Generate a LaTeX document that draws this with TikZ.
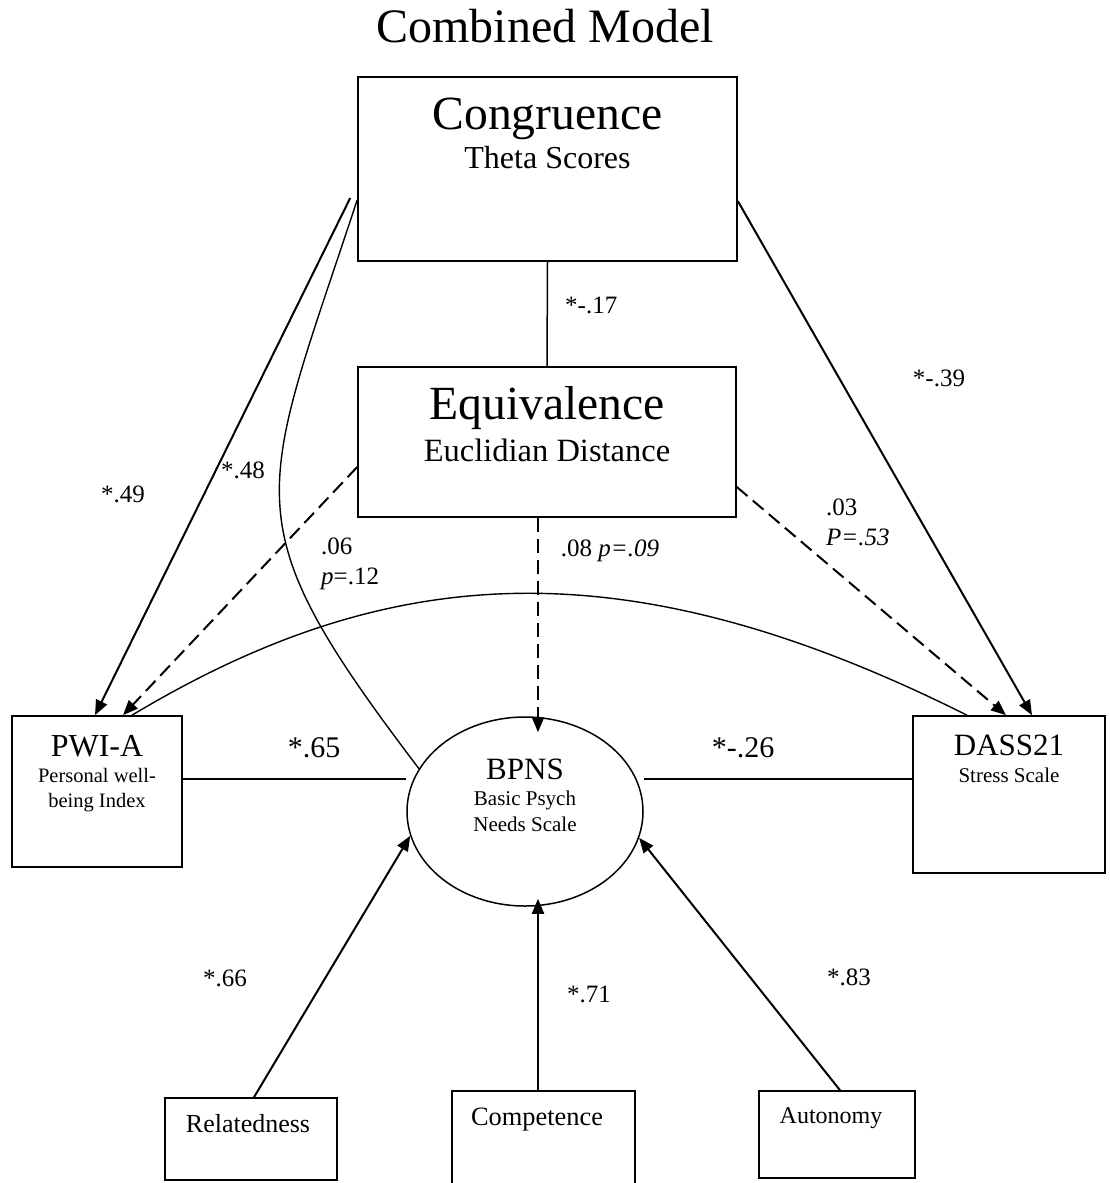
\documentclass[tikz,border=0pt]{standalone}
\usepackage{fontspec}
\setmainfont{Liberation Serif}
\usetikzlibrary{positioning,calc,arrows.meta,shapes.geometric}

\newcommand{\fs}[2]{\fontsize{#1}{#2}\selectfont}

\begin{document}
\begin{tikzpicture}[x=1pt,y=-1pt,
    sembox/.style={draw,line width=1.6pt,inner sep=0pt},
    latent/.style={draw,ellipse,line width=1.5pt,inner sep=0pt},
    boxtext/.style={inner sep=0pt,align=center},
    coef/.style={inner sep=0pt,font=\fs{25}{30}},
    bigcoef/.style={inner sep=0pt,font=\fs{30}{36}},
    effect/.style={line width=2pt,-{Triangle[length=15pt,width=12pt]}},
    weak/.style={dash pattern=on 14pt off 7pt},
    covar/.style={line width=1.4pt},
    link/.style={line width=1.5pt}]
  \useasboundingbox (0,0) rectangle (1110,1183);

  \node[font=\fs{48}{55},anchor=base] (title) at (545,42) {Combined Model};

  % measured variables and the latent factor
  \node[sembox,minimum width=379pt,minimum height=184pt] (cong)  at (547.5,169)  {};
  \node[sembox,minimum width=378pt,minimum height=150pt] (equiv) at (547,442)    {};
  \node[sembox,minimum width=170pt,minimum height=151pt] (pwi)   at (97,791.5)   {};
  \node[sembox,minimum width=192pt,minimum height=157pt] (dass)  at (1009,794.5) {};
  \node[latent,minimum width=236pt,minimum height=189pt] (bpns)  at (525,811.5)  {};
  \node[sembox,minimum width=172pt,minimum height=82pt]  (rel)   at (251,1139)   {};
  \node[sembox,minimum width=183pt,minimum height=110pt] (comp)  at (543.5,1146) {};
  \node[sembox,minimum width=156pt,minimum height=87pt]  (auto)  at (837,1134.5) {};

  \node[boxtext,font=\fs{32}{39},below=21.5pt of cong.north] (congtxt)
    {{\fs{47.6}{39}Congruence}\\Theta Scores};
  \node[boxtext,font=\fs{32.5}{42},below=20.5pt of equiv.north] (equivtxt)
    {{\fs{47.6}{42}Equivalence}\\Euclidian Distance};
  \node[boxtext,font=\fs{20.5}{25.5},below=20pt of pwi.north] (pwitxt)
    {{\fs{32}{25.5}PWI-A}\\Personal well-\\being Index};
  \node[boxtext,font=\fs{21}{27},below=19.5pt of dass.north] (dasstxt)
    {{\fs{31}{27}DASS21}\\Stress Scale};
  \node[boxtext,font=\fs{21}{26},below=43pt of bpns.north] (bpnstxt)
    {{\fs{31}{26}BPNS}\\Basic Psych\\Needs Scale};
  \node[boxtext,font=\fs{26}{30},below=17pt of rel.north,xshift=-3pt] (reltxt) {Relatedness};
  \node[boxtext,font=\fs{26.4}{30},below=18pt of comp.north,xshift=-6.5pt] (comptxt) {Competence};
  \node[boxtext,font=\fs{24}{28},below=17pt of auto.north,xshift=-6pt] (autotxt) {Autonomy};

  % paths
  \draw[effect] ($(cong.west)+(-7,29)$) -- ($(pwi.north)+(-2,0)$);
  \draw[covar] ($(cong.west)+(0,31)$) .. controls +(-99,300) and +(-190,-250) .. (bpns.158);
  \draw[covar] ($(pwi.north)+(35,0)$) .. controls +(260,-156) and +(-338,-169) .. ($(dass.north)+(-42,0)$);
  \draw[effect,weak] ($(equiv.west)+(0,25)$) -- ($(pwi.north)+(26,0)$);
  \draw[effect,weak] ($(equiv.south)+(-9,0)$) -- ($(bpns.north)+(13,16)$);
  \draw[effect,weak] ($(equiv.east)+(0,45)$) -- ($(dass.north)+(-3,0)$);
  \draw[effect] ($(cong.east)+(0,32)$) -- ($(dass.north)+(23,0)$);
  \draw[link] (cong.south) -- (equiv.north);
  \draw[link] ($(pwi.east)+(0,-12.5)$) -- ($(bpns.west)+(0,-32.5)$);
  \draw[link] ($(bpns.east)+(0,-32.5)$) -- ($(dass.west)+(0,-15.5)$);
  \draw[effect] ($(rel.north)+(3,0)$) -- (bpns.192);
  \draw[effect] ($(comp.north)+(-5.5,0)$) -- ($(bpns.south)+(13,-8)$);
  \draw[effect] ($(auto.north)+(3,0)$) -- (bpns.-13);

  % coefficients
  \node[coef,anchor=base west] (c17) at (565,313) {*-.17};
  \node[coef,anchor=base] (c39) at (939,386) {*-.39};
  \node[coef,anchor=base] (c49) at (123,502) {*.49};
  \node[coef,anchor=base] (c48) at (243,478) {*.48};
  \node[coef,anchor=north west,align=left] (c06) at (321,538) {.06\\\textit{p}=.12};
  \node[coef,anchor=base] (c08) at (610,556) {.08 \textit{p=.09}};
  \node[coef,anchor=north west,align=left] (c03) at (826,499) {.03\\\textit{P=.53}};
  \node[bigcoef,anchor=base] (c65) at (314,757) {*.65};
  \node[bigcoef,anchor=base] (c26) at (743,757) {*-.26};
  \node[coef,anchor=base] (c66) at (225,986) {*.66};
  \node[coef,anchor=base] (c71) at (589,1002) {*.71};
  \node[coef,anchor=base] (c83) at (849,985) {*.83};
\end{tikzpicture}
\end{document}
